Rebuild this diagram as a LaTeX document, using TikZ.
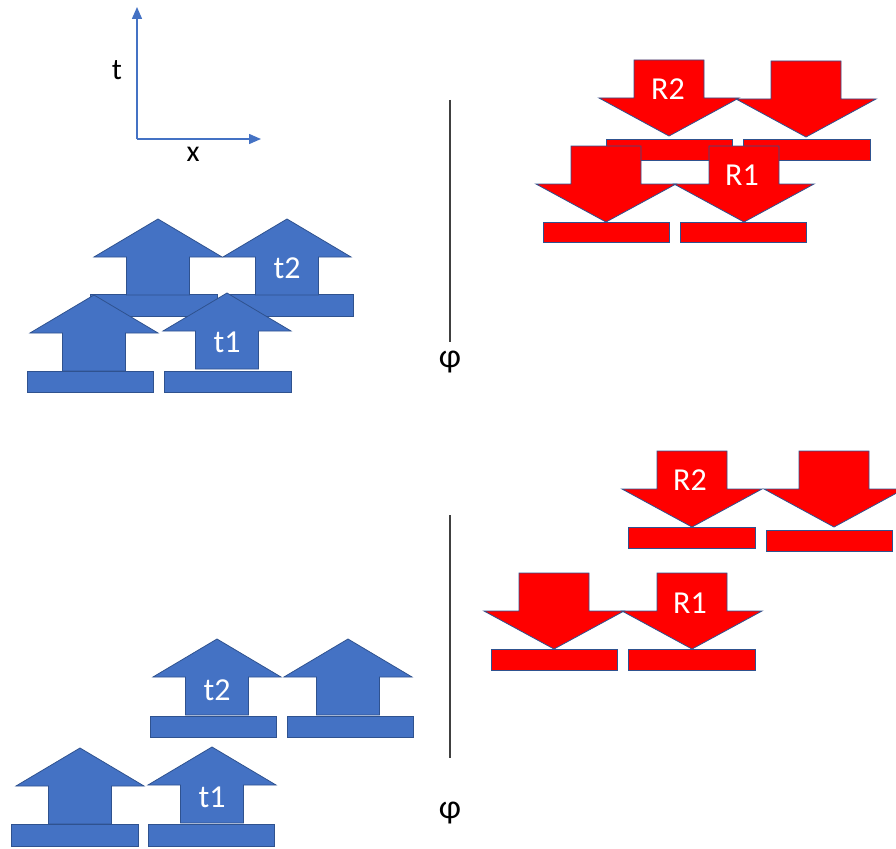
\documentclass[tikz,border=0pt]{standalone}
\usepackage{fontspec}
\setmainfont{Carlito}
\usetikzlibrary{arrows.meta}
\definecolor{ublue}{HTML}{4472C4}
\definecolor{uedge}{HTML}{2F528F}
\definecolor{ured}{HTML}{FF0000}
\definecolor{lgray}{HTML}{404040}
\begin{document}
\begin{tikzpicture}[x=1pt,y=-1pt,
  bluefill/.style={fill=ublue,draw=uedge,line width=0.8pt},
  redfill/.style={fill=ured,draw=uedge,line width=0.8pt},
  lbl/.style={text=white,font=\fontsize{32}{34}\selectfont,inner sep=0pt},
  axlbl/.style={text=black,font=\fontsize{30}{32}\selectfont,inner sep=0pt},
  philbl/.style={text=black,font=\fontsize{34}{36}\selectfont,inner sep=0pt},
  axisline/.style={draw=ublue,line width=1.5pt,-{Triangle[length=12pt,width=10pt]}},
  sepline/.style={draw=lgray,line width=1.5pt},
  uparr/.pic={\path[bluefill] (0,0) -- (64,38) -- (31.5,38) -- (31.5,76) -- (-31.5,76) -- (-31.5,38) -- (-64,38) -- cycle;},
  dnarr/.pic={\path[redfill] (0,0) -- (70,-38) -- (35,-38) -- (35,-76) -- (-35,-76) -- (-35,-38) -- (-70,-38) -- cycle;}
]
\path[use as bounding box] (0,0) rectangle (896,848);

% axes
\coordinate (o) at (137,139);
\coordinate (tend) at (137,7);
\coordinate (xend) at (261,139);
\draw[axisline] (o) -- (tend);
\draw[axisline] (o) -- (xend);
\node[axlbl] (tlab) at (117,70) {t};
\node[axlbl] (xlab) at (193,154) {x};

% separator lines
\coordinate (s1a) at (450,100);
\coordinate (s1b) at (450,342);
\draw[sepline] (s1a) -- (s1b);
\node[philbl] (phi1) at (450,362) {φ};
\coordinate (s2a) at (450,515);
\coordinate (s2b) at (450,758);
\draw[sepline] (s2a) -- (s2b);
\node[philbl] (phi2) at (450,813) {φ};

% top blue group
\path[bluefill] (90,294) rectangle (217,316);
\path[bluefill] (226,294) rectangle (353,316);
\pic (bu1) at (158,219) {uparr};
\pic (bu2) at (287,219) {uparr};
\pic (bl1) at (94,295) {uparr};
\pic (bl2) at (227,293) {uparr};
\path[bluefill] (27,371) rectangle (153,392);
\path[bluefill] (164,371) rectangle (291,392);
\node[lbl] (t2a) at (287,268) {t2};
\node[lbl] (t1a) at (227,342) {t1};

% top red group
\pic (ru1) at (669,136) {dnarr};
\pic (ru2) at (806,137) {dnarr};
\path[redfill] (606,139) rectangle (732,160);
\path[redfill] (743,139) rectangle (870,160);
\pic (rl1) at (606,222) {dnarr};
\pic (rl2) at (744,222) {dnarr};
\path[redfill] (543,222) rectangle (669,242);
\path[redfill] (680,222) rectangle (806,242);
\node[lbl] (r2a) at (668,89) {R2};
\node[lbl] (r1a) at (742,175) {R1};

% bottom red group
\pic (rb1) at (692,527) {dnarr};
\pic (rb2) at (834,527) {dnarr};
\path[redfill] (628,527) rectangle (755,548);
\path[redfill] (766,530) rectangle (892,551);
\pic (rb3) at (554,649) {dnarr};
\pic (rb4) at (692,649) {dnarr};
\path[redfill] (491,649) rectangle (617,670);
\path[redfill] (628,649) rectangle (755,670);
\node[lbl] (r2b) at (690,480) {R2};
\node[lbl] (r1b) at (690,603) {R1};

% bottom blue group
\pic (bb1) at (217,639) {uparr};
\pic (bb2) at (348,639) {uparr};
\path[bluefill] (150,716) rectangle (276,737);
\path[bluefill] (287,716) rectangle (413,737);
\pic (bb3) at (80,748) {uparr};
\pic (bb4) at (212,747) {uparr};
\path[bluefill] (11,824) rectangle (138,846);
\path[bluefill] (148,824) rectangle (274,846);
\node[lbl] (t2b) at (217,690) {t2};
\node[lbl] (t1b) at (212,797) {t1};
\end{tikzpicture}
\end{document}
